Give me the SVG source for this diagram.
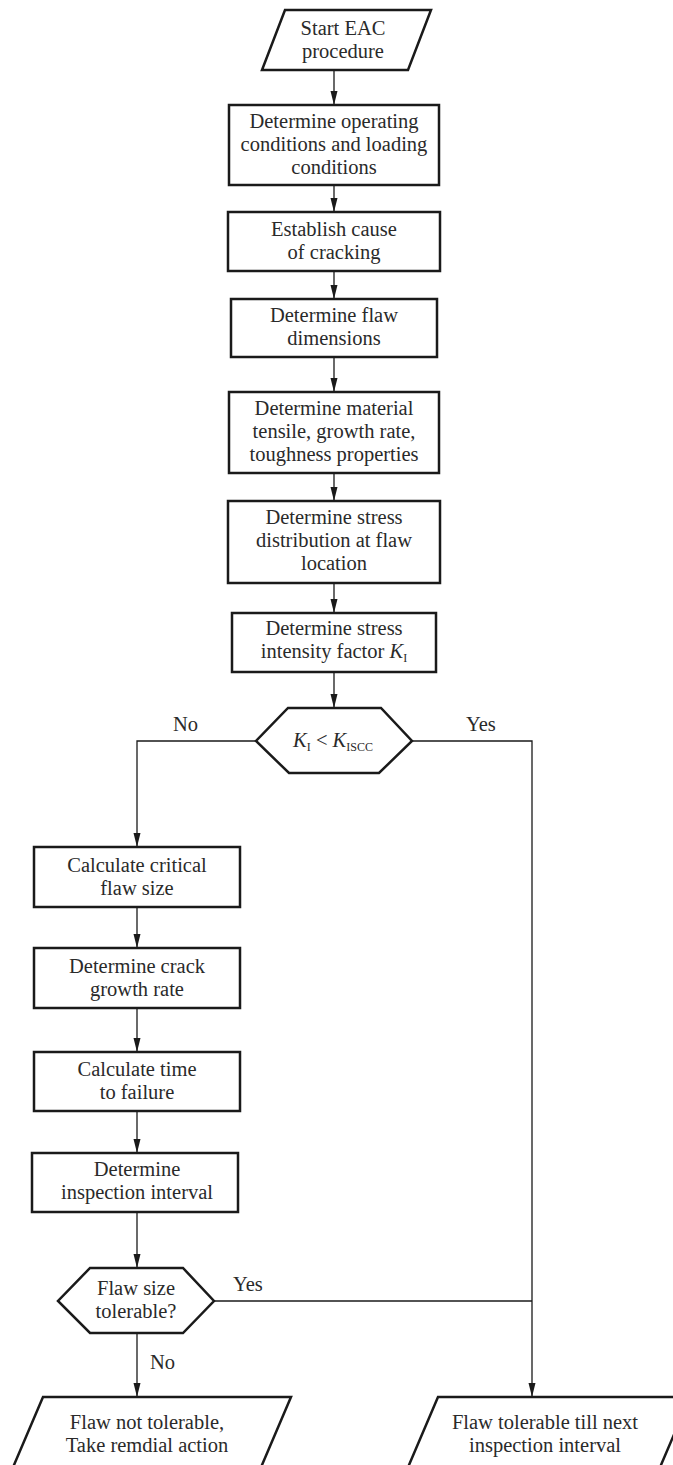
<svg xmlns="http://www.w3.org/2000/svg" width="673" height="1465" viewBox="0 0 673 1465">
<style>
.shape{fill:#fff;stroke:#1a1a1a;stroke-width:2.5;stroke-linejoin:miter}
.conn{fill:none;stroke:#1a1a1a;stroke-width:1.3}
text{font-family:"Liberation Serif","Times New Roman",serif;font-size:20.5px;fill:#2a2a2a;text-anchor:middle}
.lbl{text-anchor:start}
.it{font-style:italic}
.sub{font-size:12px}
</style>
<defs>
<marker id="arr" markerUnits="userSpaceOnUse" markerWidth="14" markerHeight="8" refX="14" refY="4" orient="auto">
<path d="M0,0.5 L14,4 L0,7.5 z" fill="#1a1a1a"/>
</marker>
</defs>
<rect width="673" height="1465" fill="#fff"/>
<g id="connectors">
<line class="conn" x1="334" y1="70" x2="334" y2="105" marker-end="url(#arr)"/>
<line class="conn" x1="334" y1="185" x2="334" y2="212" marker-end="url(#arr)"/>
<line class="conn" x1="334" y1="271" x2="334" y2="299" marker-end="url(#arr)"/>
<line class="conn" x1="334" y1="357" x2="334" y2="392" marker-end="url(#arr)"/>
<line class="conn" x1="334" y1="473" x2="334" y2="501" marker-end="url(#arr)"/>
<line class="conn" x1="334" y1="583" x2="334" y2="613" marker-end="url(#arr)"/>
<line class="conn" x1="334" y1="672" x2="334" y2="708" marker-end="url(#arr)"/>
<polyline class="conn" points="256,741 137,741 137,847" marker-end="url(#arr)"/>
<polyline class="conn" points="412,741 532,741 532,1397" marker-end="url(#arr)"/>
<line class="conn" x1="137" y1="907" x2="137" y2="948" marker-end="url(#arr)"/>
<line class="conn" x1="137" y1="1008" x2="137" y2="1052" marker-end="url(#arr)"/>
<line class="conn" x1="137" y1="1111" x2="137" y2="1153" marker-end="url(#arr)"/>
<line class="conn" x1="137" y1="1212" x2="137" y2="1268" marker-end="url(#arr)"/>
<line class="conn" x1="214" y1="1301" x2="532" y2="1301"/>
<line class="conn" x1="137" y1="1333" x2="137" y2="1397" marker-end="url(#arr)"/>
<text class="lbl" x="173" y="731">No</text>
<text class="lbl" x="466" y="731">Yes</text>
<text class="lbl" x="233" y="1291">Yes</text>
<text class="lbl" x="150" y="1369">No</text>
</g>
<g id="start">
<polygon class="shape" points="285,10 431,10 408,70 262,70"/>
<text x="343" y="35">Start EAC</text>
<text x="343" y="58">procedure</text>
</g>
<g id="operating">
<rect class="shape" x="229" y="105" width="210" height="80"/>
<text x="334" y="128">Determine operating</text>
<text x="334" y="151">conditions and loading</text>
<text x="334" y="174">conditions</text>
</g>
<g id="cause">
<rect class="shape" x="228" y="212" width="212" height="59"/>
<text x="334" y="236">Establish cause</text>
<text x="334" y="259">of cracking</text>
</g>
<g id="dimensions">
<rect class="shape" x="231" y="299" width="206" height="58"/>
<text x="334" y="322">Determine flaw</text>
<text x="334" y="345">dimensions</text>
</g>
<g id="material">
<rect class="shape" x="229" y="392" width="210" height="81"/>
<text x="334" y="415">Determine material</text>
<text x="334" y="438">tensile, growth rate,</text>
<text x="334" y="461">toughness properties</text>
</g>
<g id="stress">
<rect class="shape" x="228" y="501" width="212" height="82"/>
<text x="334" y="524">Determine stress</text>
<text x="334" y="547">distribution at flaw</text>
<text x="334" y="570">location</text>
</g>
<g id="intensity">
<rect class="shape" x="232" y="613" width="204" height="59"/>
<text x="334" y="635">Determine stress</text>
<text x="334" y="658">intensity factor <tspan class="it">K</tspan><tspan class="sub" dy="4">I</tspan></text>
</g>
<g id="decision1">
<polygon class="shape" points="288,708 381,708 412,741 379,773 289,773 256,741"/>
<text x="333" y="747"><tspan class="it">K</tspan><tspan class="sub" dy="4">I</tspan><tspan dy="-4"> &lt; </tspan><tspan class="it">K</tspan><tspan class="sub" dy="4">ISCC</tspan></text>
</g>
<g id="critical">
<rect class="shape" x="34" y="847" width="206" height="60"/>
<text x="137" y="872">Calculate critical</text>
<text x="137" y="895">flaw size</text>
</g>
<g id="growth">
<rect class="shape" x="34" y="948" width="206" height="60"/>
<text x="137" y="973">Determine crack</text>
<text x="137" y="996">growth rate</text>
</g>
<g id="time">
<rect class="shape" x="34" y="1052" width="206" height="59"/>
<text x="137" y="1076">Calculate time</text>
<text x="137" y="1099">to failure</text>
</g>
<g id="interval">
<rect class="shape" x="32" y="1153" width="206" height="59"/>
<text x="137" y="1176">Determine</text>
<text x="137" y="1199">inspection interval</text>
</g>
<g id="decision2">
<polygon class="shape" points="90,1268 183,1268 214,1301 183,1333 90,1333 58,1301"/>
<text x="136" y="1295">Flaw size</text>
<text x="136" y="1318">tolerable?</text>
</g>
<g id="not-tolerable">
<polygon class="shape" points="43,1397 291,1397 259,1472 11,1472"/>
<text x="147" y="1429">Flaw not tolerable,</text>
<text x="147" y="1452">Take remdial action</text>
</g>
<g id="tolerable">
<polygon class="shape" points="438,1397 690,1397 658,1472 406,1472"/>
<text x="545" y="1429">Flaw tolerable till next</text>
<text x="545" y="1452">inspection interval</text>
</g>
</svg>
